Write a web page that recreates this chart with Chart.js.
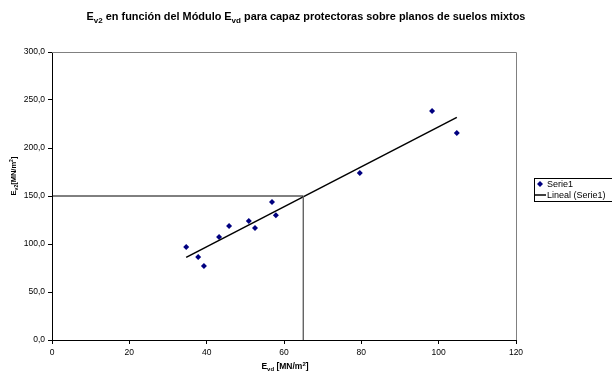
<!DOCTYPE html>
<html><head><meta charset="utf-8">
<script src="https://cdn.jsdelivr.net/npm/chart.js@4"></script>
<style>html,body{margin:0;padding:0;background:#fff}#c{display:block}</style>
</head><body>
<canvas id="c" width="612" height="371"></canvas>
<script>
// Data
const evd = [34.7, 37.8, 39.3, 43.2, 45.8, 50.9, 52.5, 56.9, 57.9, 79.6, 98.3, 104.7];
const ev2 = [96.9, 86.5, 77.0, 107.3, 118.8, 124.0, 116.7, 143.8, 130.0, 174.0, 238.5, 215.6];
const trendX = [34.7, 104.7];
const trendY = [86.1, 231.9];
const refX = [0, 65, 65];
const refY = [150, 150, 0];
const xTicks = [0, 20, 40, 60, 80, 100, 120];
const yTicks = [0, 50, 100, 150, 200, 250, 300];
const seriesName = 'Serie1';
const trendName = 'Lineal (Serie1)';

const FONT = '"Liberation Sans", Arial, sans-serif';

function pts(xs, ys) { return xs.map((x, i) => ({x: x, y: ys[i]})); }

function drawRich(ctx, parts, x, y, size, bold) {
  const w = bold ? 'bold ' : '';
  let total = 0;
  parts.forEach(p => {
    ctx.font = w + (p.s || p.u ? Math.round(size * 0.72) : size) + 'px ' + FONT;
    total += ctx.measureText(p.t).width;
  });
  let cx = x - total / 2;
  ctx.textAlign = 'left';
  ctx.textBaseline = 'alphabetic';
  parts.forEach(p => {
    ctx.font = w + (p.s || p.u ? Math.round(size * 0.72) : size) + 'px ' + FONT;
    let dy = p.s ? size * 0.25 : (p.u ? -size * 0.4 : 0);
    ctx.fillText(p.t, cx, y + dy);
    cx += ctx.measureText(p.t).width;
  });
}

const decor = {
  id: 'decor',
  beforeDatasetsDraw(chart) {
    const ctx = chart.ctx, a = chart.chartArea;
    ctx.save();
    ctx.strokeStyle = '#808080';
    ctx.lineWidth = 1;
    ctx.beginPath();
    ctx.moveTo(a.left, a.top + 0.5);
    ctx.lineTo(a.right + 0.5, a.top + 0.5);
    ctx.lineTo(a.right + 0.5, a.bottom);
    ctx.stroke();
    ctx.restore();
  },
  afterDraw(chart) {
    const ctx = chart.ctx;
    ctx.save();
    ctx.fillStyle = '#000';
    // Title
    drawRich(ctx, [{t: 'E'}, {t: 'v2', s: 1}, {t: ' en función del Módulo E'}, {t: 'vd', s: 1},
      {t: ' para capaz protectoras sobre planos de suelos mixtos'}], 306, 20, 10.9, true);
    // X title
    drawRich(ctx, [{t: 'E'}, {t: 'vd', s: 1}, {t: ' [MN/m'}, {t: '2', u: 1}, {t: ']'}], 285, 369, 8.5, true);
    // Y title
    ctx.save();
    ctx.translate(16, 176);
    ctx.rotate(-Math.PI / 2);
    drawRich(ctx, [{t: 'E'}, {t: 'v2', s: 1}, {t: '[MN/m'}, {t: '2', u: 1}, {t: ']'}], 0, 0, 7.5, true);
    ctx.restore();
    // Legend
    const lx = 534.5, ly = 178.5;
    ctx.strokeStyle = '#000';
    ctx.lineWidth = 1;
    ctx.strokeRect(lx, ly, 90, 23);
    ctx.fillStyle = '#000080';
    const mx = 540, my = 184;
    ctx.beginPath();
    ctx.moveTo(mx, my - 3); ctx.lineTo(mx + 3, my); ctx.lineTo(mx, my + 3); ctx.lineTo(mx - 3, my);
    ctx.closePath(); ctx.fill();
    ctx.strokeStyle = '#000';
    ctx.lineWidth = 1.5;
    ctx.beginPath(); ctx.moveTo(535, 195); ctx.lineTo(546, 195); ctx.stroke();
    ctx.fillStyle = '#000';
    ctx.font = '9px ' + FONT;
    ctx.textAlign = 'left';
    ctx.textBaseline = 'middle';
    ctx.fillText(seriesName, 547, 184.5);
    ctx.fillText(trendName, 547, 195.5);
    ctx.restore();
  }
};

new Chart(document.getElementById('c'), {
  type: 'scatter',
  data: {
    datasets: [
      {label: 'ref-h', type: 'line', data: pts(refX.slice(0, 2), refY.slice(0, 2)), borderColor: '#000', borderWidth: 1, pointRadius: 0, fill: false, tension: 0},
      {label: 'ref-v', type: 'line', data: pts(refX.slice(1), refY.slice(1)), borderColor: '#666', borderWidth: 1, pointRadius: 0, fill: false, tension: 0},
      {label: trendName, type: 'line', data: pts(trendX, trendY), borderColor: '#000', borderWidth: 1.5, pointRadius: 0, fill: false, tension: 0},
      {label: seriesName, data: pts(evd, ev2), pointStyle: 'rectRot', pointRadius: 3, pointHoverRadius: 3, backgroundColor: '#000080', borderColor: '#000080', borderWidth: 0}
    ]
  },
  options: {
    responsive: false,
    animation: false,
    devicePixelRatio: 1,
    layout: {padding: {top: 52, right: 96, left: 0, bottom: 0}},
    plugins: {legend: {display: false}, title: {display: false}, tooltip: {enabled: false}},
    scales: {
      x: {
        type: 'linear', min: 0, max: 120,
        afterBuildTicks: s => { s.ticks = xTicks.map(v => ({value: v})); },
        afterFit: s => { s.height = 31; },
        ticks: {color: '#000', font: {size: 8.5, family: FONT}, padding: 4, maxRotation: 0},
        grid: {drawOnChartArea: false, drawTicks: true, tickLength: 4, tickColor: '#000'},
        border: {color: '#000', width: 1}
      },
      y: {
        type: 'linear', min: 0, max: 300,
        afterBuildTicks: s => { s.ticks = yTicks.map(v => ({value: v})); },
        afterFit: s => { s.width = 52; },
        ticks: {color: '#000', font: {size: 8.5, family: FONT}, padding: 3, callback: v => v.toFixed(1).replace('.', ',')},
        grid: {drawOnChartArea: false, drawTicks: true, tickLength: 4, tickColor: '#000'},
        border: {color: '#000', width: 1}
      }
    }
  },
  plugins: [decor]
});
</script>
</body></html>
